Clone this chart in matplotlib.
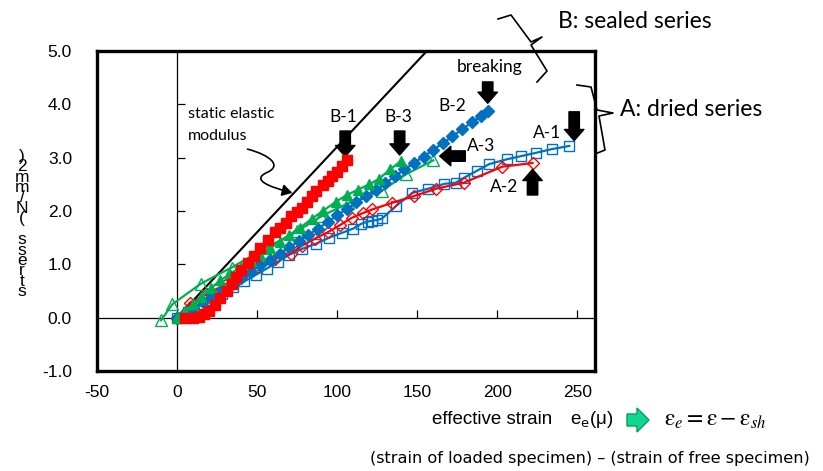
import matplotlib
matplotlib.use("Agg")
import matplotlib.pyplot as plt
from matplotlib.patches import Polygon, FancyArrowPatch
from matplotlib.path import Path
from matplotlib.lines import Line2D

plt.rcParams['font.family'] = ['Liberation Sans', 'DejaVu Sans']

# --- data (strain in micro, stress in N/mm2) ---
b1_x = [5, 10, 14, 17, 20, 24, 27, 31, 34, 37, 40, 44, 48, 52, 57, 61, 64, 68, 71, 75,
        78, 81, 84, 87, 91, 94, 97, 100, 103, 106]
b1_y = [0.00, 0.00, 0.02, 0.07, 0.12, 0.24, 0.36, 0.50, 0.64, 0.76, 0.90, 1.02, 1.16, 1.30,
        1.46, 1.60, 1.68, 1.78, 1.90, 1.98, 2.06, 2.16, 2.28, 2.38, 2.48, 2.57, 2.66, 2.74,
        2.84, 2.95]

b2_x = [0, 5, 10, 16, 22, 28, 34, 40, 46, 52, 58, 64, 70, 76, 82, 88, 94, 100, 106, 112,
        118, 124, 130, 136, 142, 148, 154, 160, 166, 172, 178, 184, 190, 194]
b2_y = [0.00, 0.08, 0.18, 0.29, 0.40, 0.52, 0.63, 0.75, 0.86, 0.98, 1.09, 1.20, 1.32, 1.43,
        1.55, 1.67, 1.79, 1.92, 2.04, 2.16, 2.28, 2.40, 2.52, 2.65, 2.78, 2.90, 3.02, 3.15,
        3.27, 3.40, 3.53, 3.66, 3.78, 3.88]

b3_x = [0, 5, 10, 15, 21, 27, 33, 40, 46, 52, 58, 64, 70, 77, 84, 91, 99, 106, 113, 120,
        126, 133, 140]
b3_y = [0.00, 0.13, 0.25, 0.38, 0.55, 0.70, 0.82, 0.95, 1.07, 1.18, 1.30, 1.42, 1.55, 1.69,
        1.85, 2.00, 2.17, 2.30, 2.40, 2.50, 2.60, 2.78, 2.94]

a1_x = [0, 7, 14, 21, 28, 35, 42, 49, 56, 63, 70, 78, 87, 95, 103, 110, 115, 119, 122, 125,
        128, 137, 147, 157, 167, 174, 179, 187, 195, 206, 215, 224, 234, 245]
a1_y = [0.00, 0.10, 0.22, 0.34, 0.45, 0.57, 0.68, 0.80, 0.92, 1.05, 1.18, 1.29, 1.39, 1.50,
        1.59, 1.67, 1.76, 1.80, 1.82, 1.83, 1.86, 2.10, 2.34, 2.42, 2.51, 2.53, 2.62, 2.75,
        2.88, 2.97, 3.03, 3.09, 3.16, 3.22]

a2_x = [0, 8, 19, 30, 40, 50, 61, 71, 78, 86, 94, 102, 109, 116, 122, 134, 148, 162, 179,
        203, 222]
a2_y = [0.00, 0.28, 0.45, 0.62, 0.78, 0.95, 1.10, 1.20, 1.35, 1.48, 1.60, 1.74, 1.87, 1.96,
        2.03, 2.15, 2.28, 2.42, 2.53, 2.83, 2.90]

a3_x = [-10, -3, 15, 34, 55, 75, 90, 107, 128, 143, 160]
a3_y = [-0.05, 0.25, 0.64, 0.94, 1.30, 1.62, 1.90, 2.15, 2.38, 2.69, 2.95]

modulus_x = [0, 156]
modulus_y = [0.0, 5.0]

xticks = [-50, 0, 50, 100, 150, 200, 250]
yticks = [-1.0, 0.0, 1.0, 2.0, 3.0, 4.0, 5.0]

RED = '#FF0000'
BLUE = '#0070C0'
GREEN = '#00B050'
CAL = ['Lato', 'DejaVu Sans']

W, H = 823, 471
fig = plt.figure(figsize=(W / 100, H / 100), dpi=100)
ax = fig.add_axes([97 / W, 1 - 371 / H, (595 - 97) / W, (371 - 51) / H])
ax.set_xlim(-50, 261)
ax.set_ylim(-1, 5)

for s in ax.spines.values():
    s.set_linewidth(2.4)
ax.set_xticks(xticks)
ax.set_yticks(yticks)
ax.set_xticklabels([str(t) for t in xticks])
ax.set_yticklabels(['%.1f' % t for t in yticks])
ax.tick_params(length=0, labelsize=12.5)
ax.tick_params(axis='x', pad=10)
ax.tick_params(axis='y', pad=18)

# zero lines with their small inner ticks
ax.axhline(0, color='black', lw=0.9, zorder=1)
ax.axvline(0, color='black', lw=0.9, zorder=1)
xt = [t for t in xticks if t not in (0, -50)]
ax.plot(xt, [0] * len(xt), ls='none', marker=2, ms=6, mew=0.9, color='black')
yt = [t for t in yticks if t != 0]
ax.plot([0] * len(yt), yt, ls='none', marker=1, ms=6, mew=0.9, color='black')

# static elastic modulus line
ax.plot(modulus_x, modulus_y, color='black', lw=1.5, zorder=2)

# series
ax.plot(a1_x, a1_y, color=BLUE, lw=1.6, marker='s', ms=7, mfc='none', mew=1.0, zorder=3)
ax.plot(a2_x, a2_y, color=RED, lw=1.6, marker='D', ms=6, mfc='none', mew=1.0, zorder=3)
ax.plot(a3_x, a3_y, color=GREEN, lw=1.6, marker='^', ms=8, mfc='none', mew=1.0, zorder=3)
ax.plot(b2_x, b2_y, color=BLUE, lw=1.6, marker='D', ms=6, zorder=4)
ax.plot(b3_x, b3_y, color=GREEN, lw=1.6, marker='^', ms=7, zorder=4)
ax.plot(b1_x, b1_y, color=RED, lw=1.6, marker='s', ms=7, zorder=5)


def block_arrow(tail, tip):
    ax.annotate('', xy=tip, xytext=tail, annotation_clip=False,
                arrowprops=dict(arrowstyle='simple,head_length=0.8,head_width=1.4,tail_width=0.75',
                                fc='black', ec='black', shrinkA=0, shrinkB=0,
                                mutation_scale=10))


block_arrow((105, 3.50), (105, 3.02))
block_arrow((139, 3.50), (139, 3.05))
block_arrow((194, 4.42), (194, 4.02))
block_arrow((248, 3.86), (248, 3.32))
block_arrow((180, 3.03), (164, 3.03))
block_arrow((222, 2.30), (222, 2.78))

lab = dict(family=CAL, fontsize=12.5, ha='center', va='center')
ax.text(104, 3.76, 'B-1', **lab)
ax.text(138, 3.76, 'B-3', **lab)
ax.text(172, 3.97, 'B-2', **lab)
ax.text(190, 3.22, 'A-3', **lab)
ax.text(231, 3.46, 'A-1', **lab)
ax.text(204, 2.45, 'A-2', **lab)
ax.text(195, 4.70, 'breaking', **lab)
ax.text(7, 3.82, 'static elastic', family=CAL, fontsize=11.5, ha='left', va='center')
ax.text(7, 3.40, 'modulus', family=CAL, fontsize=11.5, ha='left', va='center')

# wavy pointer to the modulus line
wave = Path([(44, 3.16), (58, 3.05), (66, 2.85), (56, 2.72),
             (46, 2.58), (58, 2.45), (72, 2.34)],
            [Path.MOVETO, Path.CURVE4, Path.CURVE4, Path.CURVE4,
             Path.CURVE4, Path.CURVE4, Path.CURVE4])
ax.add_patch(FancyArrowPatch(path=wave, arrowstyle='-|>,head_length=6,head_width=3.5',
                             color='black', lw=1.2, zorder=6))

# --- figure-level decorations in pixel coordinates ---
pxT = fig.dpi_scale_trans


def P(x, y):
    return (x / 100, (H - y) / 100)


def brace(pts):
    xs, ys = zip(*[P(x, y) for x, y in pts])
    fig.add_artist(Line2D(xs, ys, transform=pxT, color='black', lw=1.2,
                          solid_joinstyle='round'))


brace([(498, 19), (511, 15), (531, 42), (542, 37), (531, 45), (547, 71), (537, 82)])
brace([(577, 85), (591, 87), (597, 110), (613, 113), (599, 116), (605, 150), (595, 154)])

fig.text(*P(558, 22), 'B: sealed series', transform=pxT, family=CAL,
         fontsize=16.5, ha='left', va='center')
fig.text(*P(620, 109), 'A: dried series', transform=pxT, family=CAL,
         fontsize=16.5, ha='left', va='center')

# stacked y label (characters piled from bottom to top, as in the original)
ylab = 'stress (N/mm2)'
fig.text(*P(22, 224), '\n'.join(reversed(ylab)), transform=pxT, fontsize=12.5,
         ha='center', va='center', linespacing=0.62)

fig.text(*P(432, 420), 'effective strain', transform=pxT, fontsize=13.5,
         ha='left', va='center')
fig.text(*P(570, 420), r'e$_{\rm e}$(μ)', transform=pxT, fontsize=13.5,
         ha='left', va='center')
arrow_pts = [(627, 414), (637, 414), (637, 408), (649, 420), (637, 432), (637, 426), (627, 426)]
fig.add_artist(Polygon([P(x, y) for x, y in arrow_pts], closed=True, transform=pxT,
                       fc='#10D890', ec='#00A060', lw=1.0))
fig.text(*P(664, 420), r'$\mathrm{\varepsilon}_e = \mathrm{\varepsilon} - \mathrm{\varepsilon}_{sh}$',
         transform=pxT, math_fontfamily='stix', fontsize=17, ha='left', va='center')
fig.text(*P(370, 459), '(strain of loaded specimen) \u2013 (strain of free specimen)',
         transform=pxT, family='DejaVu Sans', fontsize=11.6, ha='left', va='center')

fig.savefig('out.png', dpi=100)
